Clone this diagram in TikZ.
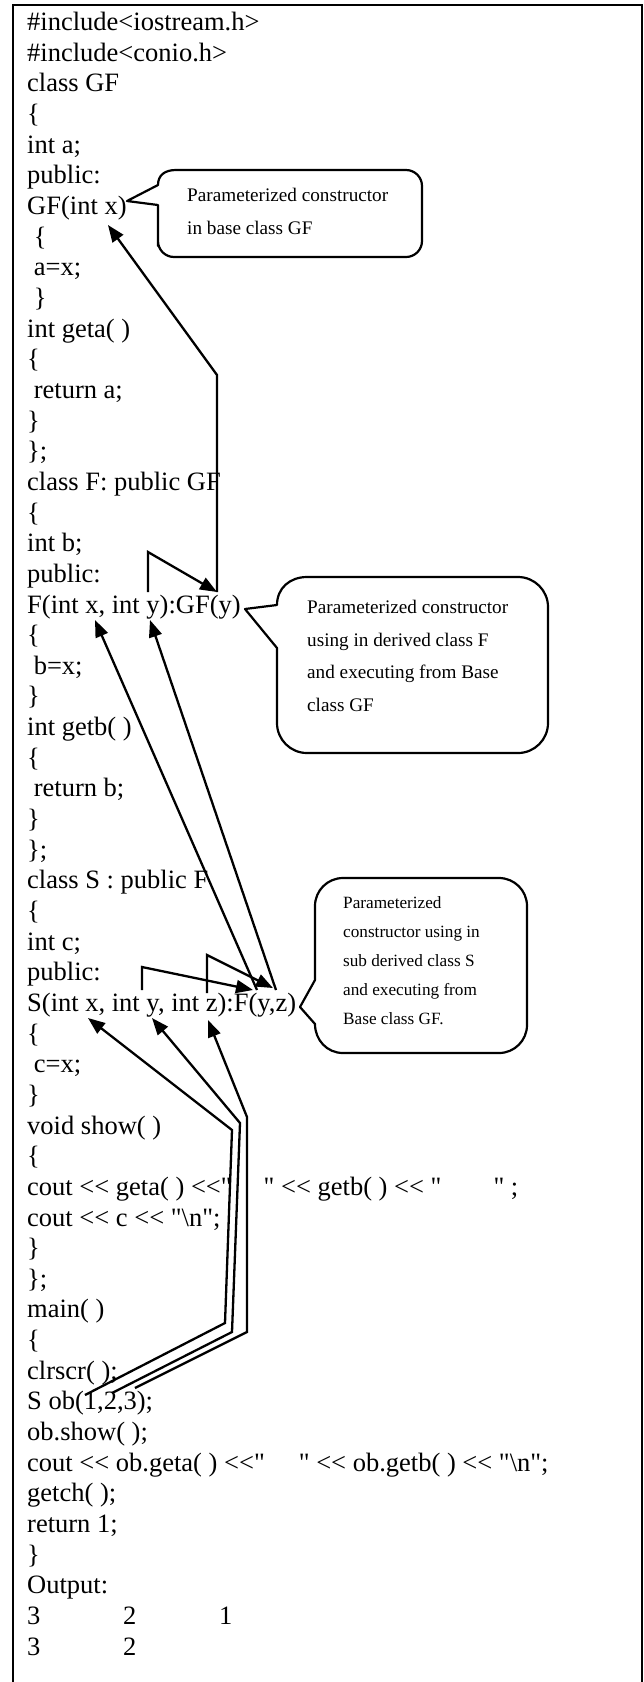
\documentclass[tikz,border=0pt]{standalone}
\usepackage{fontspec}
\newfontfamily\codefont{Liberation Serif}
\usetikzlibrary{arrows.meta}
\newcommand\codeln[3]{\node[codeline] (L#1) at (#2,{613+(#1-20)*30.65}) {#3};}
\begin{document}
\begin{tikzpicture}[x=1pt,y=-1pt,
  codeline/.style={anchor=base west,inner sep=0pt,font=\codefont\fontsize{26.5}{30}\selectfont},
  note/.style={anchor=base west,inner sep=0pt,font=\codefont\fontsize{19.2}{22}\selectfont},
  smallnote/.style={anchor=base west,inner sep=0pt,font=\codefont\fontsize{17.2}{20}\selectfont},
  frameline/.style={line width=2.5pt},
  bubble/.style={line width=2.2pt,line join=round},
  link/.style={line width=2.3pt},
  linkarrow/.style={link,-{Triangle[length=17pt,width=13pt]}}]
\useasboundingbox (0,0) rectangle (644,1682);
\fill[white] (0,0) rectangle (644,1682);
\draw[frameline] (13,1682) -- (13,5) -- (642,5) -- (642,1682);

\codeln{1}{27}{\#include<iostream.h>}
\codeln{2}{27}{\#include<conio.h>}
\codeln{3}{27}{class GF}
\codeln{4}{27}{\{}
\codeln{5}{27}{int a;}
\codeln{6}{27}{public:}
\codeln{7}{27}{GF(int x)}
\codeln{8}{33.6}{\{}
\codeln{9}{33.6}{a=x;}
\codeln{10}{33.6}{\}}
\codeln{11}{27}{int geta( )}
\codeln{12}{27}{\{}
\codeln{13}{33.6}{return a;}
\codeln{14}{27}{\}}
\codeln{15}{27}{\};}
\codeln{16}{27}{class F: public GF}
\codeln{17}{27}{\{}
\codeln{18}{27}{int b;}
\codeln{19}{27}{public:}
\codeln{20}{27}{F(int x, int y):GF(y)}
\codeln{21}{27}{\{}
\codeln{22}{33.6}{b=x;}
\codeln{23}{27}{\}}
\codeln{24}{27}{int getb( )}
\codeln{25}{27}{\{}
\codeln{26}{33.6}{return b;}
\codeln{27}{27}{\}}
\codeln{28}{27}{\};}
\codeln{29}{27}{class S : public F}
\codeln{30}{27}{\{}
\codeln{31}{27}{int c;}
\codeln{32}{27}{public:}
\codeln{33}{27}{S(int x, int y, int z):F(y,z)}
\codeln{34}{27}{\{}
\codeln{35}{33.6}{c=x;}
\codeln{36}{27}{\}}
\codeln{37}{27}{void show( )}
\codeln{38}{27}{\{}
\codeln{39}{27}{cout << geta( ) <<"\hspace{32pt}" << getb( ) << "\hspace{52pt}" ;}
\codeln{40}{27}{cout << c << "\textbackslash n";}
\codeln{41}{27}{\}}
\codeln{42}{27}{\};}
\codeln{43}{27}{main( )}
\codeln{44}{27}{\{}
\codeln{45}{27}{clrscr( );}
\codeln{46}{27}{S ob(1,2,3);}
\codeln{47}{27}{ob.show( );}
\codeln{48}{27}{cout << ob.geta( ) <<"\hspace{34pt}" << ob.getb( ) << "\textbackslash n";}
\codeln{49}{27}{getch( );}
\codeln{50}{27}{return 1;}
\codeln{51}{27}{\}}
\codeln{52}{27}{Output:}
\codeln{53}{27}{3\hspace{82.75pt}2\hspace{82.75pt}1}
\codeln{54}{27}{3\hspace{82.75pt}2}

% callout 1
\draw[bubble] (300,170) [rounded corners=16pt] -- (422,170) -- (422,257) -- (158,257) -- (158,230)
  [sharp corners] -- (158,205) -- (127,201) -- (158,185) .. controls (158,175) and (165,170) .. (176,170) -- cycle;
\node[note] (c1a) at (187,201) {Parameterized constructor};
\node[note] (c1b) at (187,234) {in base class GF};

% callout 2
\draw[bubble] (400,577) [rounded corners=30pt] -- (548,577) -- (548,753) -- (277,753) -- (277,690)
  [sharp corners] -- (277,648) -- (245,609) -- (277,605) .. controls (277,588) and (290,577) .. (307,577) -- cycle;
\node[note] (c2a) at (307,613) {Parameterized constructor};
\node[note] (c2b) at (307,646) {using in derived class F};
\node[note] (c2c) at (307,678) {and executing from Base};
\node[note] (c2d) at (307,711) {class GF};

% callout 3
\draw[bubble] (420,878) [rounded corners=28pt] -- (527,878) -- (527,1053) -- (400,1053)
  [sharp corners] -- (343,1053) .. controls (327,1053) and (315,1040) .. (315,1024) -- (300,1007) -- (315,980) -- (315,960)
  [rounded corners=28pt] -- (315,878) -- cycle;
\node[smallnote] (c3a) at (343,908) {Parameterized};
\node[smallnote] (c3b) at (343,937) {constructor using in};
\node[smallnote] (c3c) at (343,966) {sub derived class S};
\node[smallnote] (c3d) at (343,995) {and executing from};
\node[smallnote] (c3e) at (343,1024) {Base class GF.};

% connector points
\coordinate (a1s) at (217,592); \coordinate (a1b) at (217,375); \coordinate (a1e) at (108,225);
\coordinate (a2s) at (148,592); \coordinate (a2b) at (148,552); \coordinate (a2e) at (217,592);
\coordinate (a3s) at (257,990); \coordinate (a3e) at (95,620);
\coordinate (a4s) at (276,990); \coordinate (a4e) at (150,620);
\coordinate (a5s) at (142,990); \coordinate (a5b) at (142,967); \coordinate (a5e) at (253,990);
\coordinate (a6s) at (207,993); \coordinate (a6b) at (207,955); \coordinate (a6e) at (273,988);
\coordinate (a7s) at (85,1395); \coordinate (a7b) at (225,1323); \coordinate (a7c) at (232,1130); \coordinate (a7e) at (88,1018);
\coordinate (a8s) at (112,1393); \coordinate (a8b) at (232,1332); \coordinate (a8c) at (240,1123); \coordinate (a8e) at (152,1018);
\coordinate (a9s) at (135,1388); \coordinate (a9b) at (247,1332); \coordinate (a9c) at (247,1117); \coordinate (a9e) at (208,1020);

\draw[linkarrow] (a1s) -- (a1b) -- (a1e);
\draw[linkarrow] (a2s) -- (a2b) -- (a2e);
\draw[linkarrow] (a3s) -- (a3e);
\draw[linkarrow] (a4s) -- (a4e);
\draw[linkarrow] (a5s) -- (a5b) -- (a5e);
\draw[linkarrow] (a6s) -- (a6b) -- (a6e);
\draw[linkarrow] (a7s) -- (a7b) -- (a7c) -- (a7e);
\draw[linkarrow] (a8s) -- (a8b) -- (a8c) -- (a8e);
\draw[linkarrow] (a9s) -- (a9b) -- (a9c) -- (a9e);
\end{tikzpicture}
\end{document}
